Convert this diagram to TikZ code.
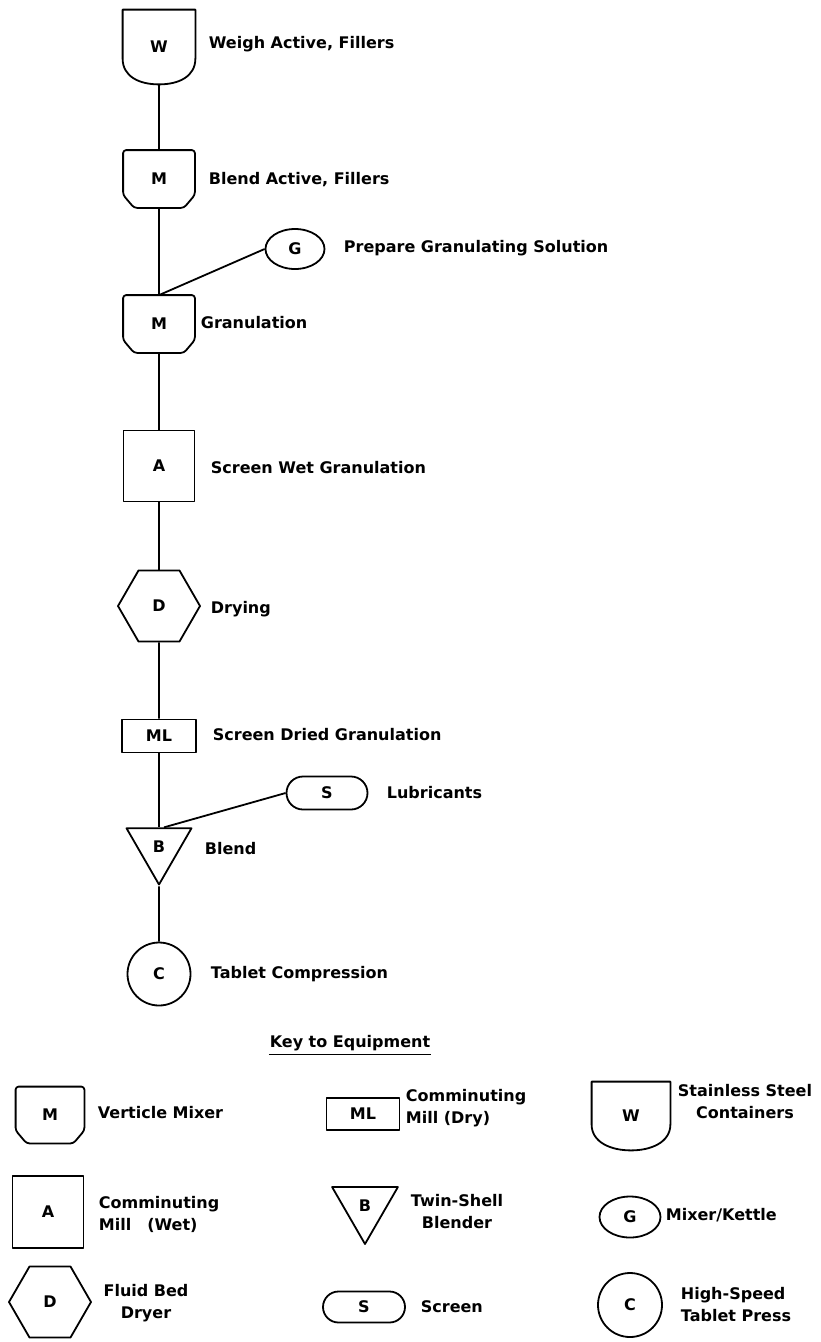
\documentclass[tikz,border=0pt]{standalone}
\usepackage{fontspec}
\setmainfont{DejaVu Sans}
\usetikzlibrary{shapes.geometric,shapes.misc}

% outlines drawn round invisible rectangle nodes
\newcommand{\mixeroutline}[1]{%
  \draw[rounded corners=3pt] ([yshift=13pt]#1.south west) -- (#1.north west) -- (#1.north east)
    -- ([yshift=13pt]#1.south east) -- ([xshift=-11pt]#1.south east) -- ([xshift=11pt]#1.south west) -- cycle;}
\newcommand{\shieldoutline}[1]{%
  \draw ([yshift=26pt]#1.south west) -- (#1.north west) -- (#1.north east) -- ([yshift=26pt]#1.south east)
    .. controls ([yshift=8pt]#1.south east) and ([xshift=20pt]#1.south) .. (#1.south)
    .. controls ([xshift=-20pt]#1.south) and ([yshift=8pt]#1.south west) .. ([yshift=26pt]#1.south west) -- cycle;}

\begin{document}
\begin{tikzpicture}[x=1pt,y=-1pt,line width=1.8pt,line join=round,
    every node/.style={font=\bfseries\fontsize{16}{22}\selectfont,inner sep=0pt},
    mixer/.style={rectangle,minimum width=70pt,minimum height=56pt},
    cont/.style={rectangle,minimum width=71pt,minimum height=73pt},
    wetmill/.style={draw,rectangle,minimum width=71pt,minimum height=71pt},
    drymill/.style={draw,rectangle,minimum width=74pt,minimum height=33pt},
    dryer/.style={draw,regular polygon,regular polygon sides=6,minimum size=82pt},
    blender/.style={draw,regular polygon,regular polygon sides=3,shape border rotate=180,minimum size=75pt},
    kettle/.style={draw,ellipse,minimum width=59pt,minimum height=40pt},
    screen/.style={draw,rounded rectangle,minimum width=81pt,minimum height=33pt},
    press/.style={draw,circle,minimum size=63pt},
    lbl/.style={anchor=west}]
  \fill[white] (0,0) rectangle (820,1342);

  % process
  \node[cont] (w) at (159,47) {W}; \shieldoutline{w}
  \node[lbl] (wtext) at (208,44) {Weigh Active, Fillers};
  \node[mixer] (m1) at (159,179) {M}; \mixeroutline{m1}
  \node[lbl] (m1text) at (208,180) {Blend Active, Fillers};
  \node[kettle] (g) at (295,249) {G};
  \node[lbl] (gtext) at (343,248) {Prepare Granulating Solution};
  \node[mixer] (m2) at (159,324) {M}; \mixeroutline{m2}
  \node[lbl] (m2text) at (200,323) {Granulation};
  \node[wetmill] (a) at (159,466) {A};
  \node[lbl] (atext) at (210,468) {Screen Wet Granulation};
  \node[dryer] (d) at (159,606) {D};
  \node[lbl] (dtext) at (210,609) {Drying};
  \node[drymill] (ml) at (159,736) {ML};
  \node[lbl] (mltext) at (212,735) {Screen Dried Granulation};
  \node[screen] (s) at (327,793) {S};
  \node[lbl] (stext) at (386,793) {Lubricants};
  \node[blender] (b) at (159,847) {B};
  \node[lbl] (btext) at (204,849) {Blend};
  \node[press] (c) at (159,974) {C};
  \node[lbl] (ctext) at (210,974) {Tablet Compression};

  \foreach \from/\to in {w/m1,m1/m2,m2/a,a/d,d/ml,ml/b,b/c}
    \draw (\from) -- (\to);
  \draw (g.west) -- (m2.north);
  \draw (s.west) -- ([xshift=5pt]b.north);

  % key
  \node (keytitle) at (350,1043) {Key to Equipment};
  \draw[line width=1.2pt] ([yshift=-3pt]keytitle.south west) -- ([yshift=-3pt]keytitle.south east);

  \node[mixer,minimum width=67pt,minimum height=55pt] (km) at (50,1115) {M}; \mixeroutline{km}
  \node[lbl] (kmtext) at (97,1113) {Verticle Mixer};
  \node[drymill,minimum width=73pt,minimum height=32pt] (kml) at (363,1114) {ML};
  \node[lbl,align=left] (kmltext) at (405,1108) {Comminuting\\Mill (Dry)};
  \node[cont,minimum width=77pt,minimum height=67pt] (kw) at (631,1116) {W}; \shieldoutline{kw}
  \node[align=center] (kwtext) at (745,1102) {Stainless Steel\\Containers};

  \node[wetmill,minimum height=72pt] (ka) at (48,1212) {A};
  \node[lbl,align=left] (katext) at (98,1214) {Comminuting\\Mill\quad(Wet)};
  \node[blender,minimum size=76pt] (kb) at (365,1206) {B};
  \node[align=center] (kbtext) at (457,1212) {Twin-Shell\\Blender};
  \node[kettle,minimum width=61pt,minimum height=41pt] (kg) at (630,1217) {G};
  \node[lbl] (kgtext) at (665,1215) {Mixer/Kettle};

  \node[dryer,minimum size=82pt] (kd) at (50,1302) {D};
  \node[align=center] (kdtext) at (146,1303) {Fluid Bed\\Dryer};
  \node[screen,minimum width=82pt,minimum height=31pt] (ks) at (364,1307) {S};
  \node[lbl] (kstext) at (420,1307) {Screen};
  \node[press,minimum size=64pt] (kc) at (630,1305) {C};
  \node[lbl,align=left] (kctext) at (680,1305) {High-Speed\\Tablet Press};
\end{tikzpicture}
\end{document}
